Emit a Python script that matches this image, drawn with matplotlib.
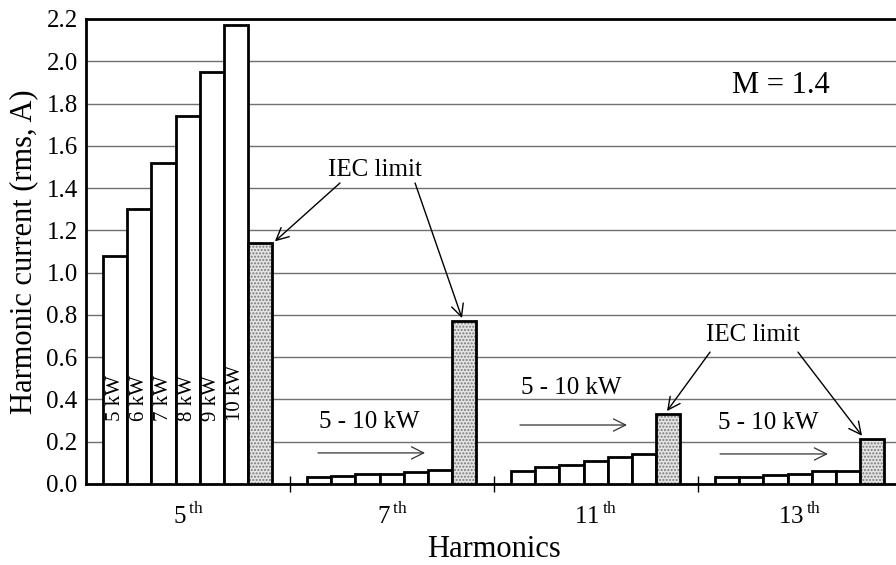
import numpy as np
import matplotlib
matplotlib.use('Agg')
import matplotlib.pyplot as plt

plt.rcParams['font.family'] = ['Liberation Serif', 'DejaVu Serif']
plt.rcParams['mathtext.fontset'] = 'custom'
plt.rcParams['mathtext.rm'] = 'Liberation Serif'

# harmonic currents (rms, A): 5..10 kW, last value = IEC limit
harmonics = ['5', '7', '11', '13']
powers = ['5 kW', '6 kW', '7 kW', '8 kW', '9 kW', '10 kW']
h5 = [1.08, 1.30, 1.52, 1.74, 1.95, 2.17]
h7 = [0.033, 0.040, 0.046, 0.047, 0.058, 0.068]
h11 = [0.06, 0.08, 0.09, 0.11, 0.13, 0.14]
h13 = [0.033, 0.033, 0.044, 0.049, 0.06, 0.063]
iecLimit = [1.14, 0.77, 0.33, 0.215]

fig = plt.figure(figsize=(8.96, 5.65), dpi=100)
ax = fig.add_axes([0.096, 0.1434, 0.9107, 0.823])

barW = 0.118
offset = 0.085
allSeries = [h5, h7, h11, h13]

for g, series in enumerate(allSeries):
    x = g + offset + barW * (np.arange(len(series)) + 0.5)
    ax.bar(x, series, width=barW, color='white', edgecolor='black', linewidth=2, zorder=3)
    xi = g + offset + barW * (len(series) + 0.5)
    # dotted IEC bar: stipple first, outline on top
    ax.bar(xi, iecLimit[g], width=barW, color='#e4e4e4', edgecolor='#7a7a7a', hatch='.....',
           linewidth=0, zorder=3)
    ax.bar(xi, iecLimit[g], width=barW, fill=False, edgecolor='black', linewidth=2, zorder=4)
    if g == 0:
        for i, p in enumerate(powers):
            ax.text(x[i], 0.30, p, rotation=90, ha='center', va='bottom', fontsize=15, zorder=5)

ax.set_xlim(0, 4)
ax.set_ylim(0, 2.2)
ax.set_yticks(np.arange(0, 2.21, 0.2))
ax.set_yticklabels([f'{v:.1f}' for v in np.arange(0, 2.21, 0.2)], fontsize=18)
ax.tick_params(axis='y', length=0, pad=6)
ax.yaxis.grid(True, color='#707070', linewidth=1, zorder=0)
ax.set_axisbelow(True)

ax.set_xticks(np.arange(4) + 0.5)
ax.set_xticklabels([h + r'$^{\,\mathrm{th}}$' for h in harmonics], fontsize=18)
ax.set_xticks([1, 2, 3], minor=True)
ax.tick_params(axis='x', which='major', length=0, pad=14)
ax.tick_params(axis='x', which='minor', direction='inout', length=12, width=1)

for s in ax.spines.values():
    s.set_linewidth(2)

ax.set_xlabel('Harmonics', fontsize=22, labelpad=4)
ax.set_ylabel('Harmonic current (rms, A)', fontsize=22, labelpad=6)

arrowKw = dict(arrowstyle='->', color='black', lw=1, mutation_scale=22, shrinkA=0, shrinkB=0)
faintKw = dict(arrowstyle='->', color='#333333', lw=0.9, mutation_scale=22, shrinkA=0, shrinkB=0)

ax.text(3.404, 1.887, 'M = 1.4', fontsize=22, ha='center', va='center')

# IEC limit labels
ax.text(1.417, 1.485, 'IEC limit', fontsize=18, ha='center', va='center', zorder=6)
ax.annotate('', xy=(0.926, 1.148), xytext=(1.245, 1.424), arrowprops=arrowKw, zorder=6)
ax.annotate('', xy=(1.843, 0.785), xytext=(1.613, 1.424), arrowprops=arrowKw, zorder=6)

ax.text(3.270, 0.705, 'IEC limit', fontsize=18, ha='center', va='center', zorder=6)
ax.annotate('', xy=(2.848, 0.345), xytext=(3.059, 0.624), arrowprops=arrowKw, zorder=6)
ax.annotate('', xy=(3.804, 0.228), xytext=(3.490, 0.624), arrowprops=arrowKw, zorder=6)

# 5 - 10 kW labels
for tx, ty, ax0, ax1, ay in [(1.387, 0.293, 1.137, 1.662, 0.147),
                             (2.377, 0.454, 2.127, 2.652, 0.279),
                             (3.343, 0.289, 3.108, 3.637, 0.142)]:
    ax.text(tx, ty, '5 - 10 kW', fontsize=18, ha='center', va='center', zorder=6)
    ax.annotate('', xy=(ax1, ay), xytext=(ax0, ay), arrowprops=faintKw, zorder=6)

plt.savefig('out.png', dpi=100)
